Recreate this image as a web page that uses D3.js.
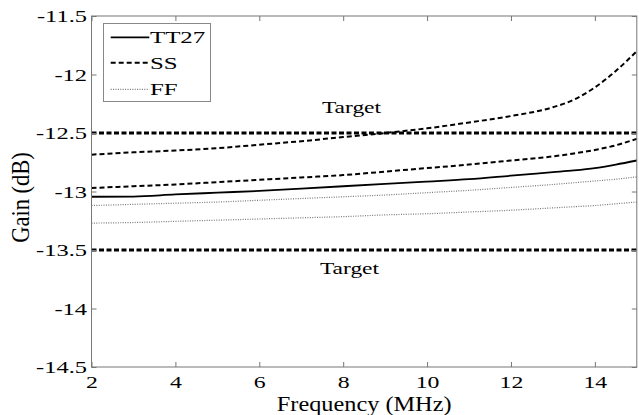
<!DOCTYPE html>
<html><head><meta charset="utf-8">
<script src="https://cdn.jsdelivr.net/npm/d3@7"></script>
<style>body{margin:0;background:#fff} svg{display:block} svg text{font-family:"Liberation Serif","Tinos","Times New Roman",serif;}</style>
</head><body>
<svg id="chart" width="639" height="415"></svg>
<script>
// ---- data ----
const freq   = [2, 3, 4, 5, 6, 7, 8, 9, 10, 11, 12, 13, 13.5, 14, 14.5, 15];
const tt27   = [-13.045, -13.043, -13.025, -13.01, -12.995, -12.975, -12.955, -12.935, -12.915, -12.895, -12.865, -12.835, -12.82, -12.80, -12.77, -12.735];
const ssHigh = [-12.685, -12.665, -12.65, -12.63, -12.60, -12.57, -12.535, -12.50, -12.46, -12.41, -12.355, -12.28, -12.215, -12.11, -11.97, -11.80];
const ssLow  = [-12.97, -12.955, -12.94, -12.92, -12.90, -12.88, -12.86, -12.83, -12.80, -12.77, -12.735, -12.70, -12.675, -12.645, -12.605, -12.55];
const ffHigh = [-13.12, -13.11, -13.10, -13.09, -13.075, -13.06, -13.045, -13.03, -13.01, -12.99, -12.965, -12.94, -12.925, -12.91, -12.895, -12.875];
const ffLow  = [-13.27, -13.265, -13.255, -13.245, -13.235, -13.225, -13.215, -13.20, -13.19, -13.175, -13.16, -13.14, -13.13, -13.12, -13.105, -13.09];
const targets = [-12.5, -13.5];
const targetLabel = "Target";
const targetLabelFreq = 8.15;
const seriesNames = ["TT27", "SS", "FF"];
const xTicks = [2, 4, 6, 8, 10, 12, 14];
const yTicks = [-11.5, -12, -12.5, -13, -13.5, -14, -14.5];
const xDomain = [2, 15];
const yDomain = [-14.5, -11.5];
const xTitle = "Frequency (MHz)";
const yTitle = "Gain (dB)";

// ---- layout / styles ----
const L = 91.5, R = 636.8, T = 16, B = 367;
const styles = {
  TT27: {stroke: "#000", width: 1.8, dash: null},
  SS:   {stroke: "#000", width: 2,   dash: "5,3"},
  FF:   {stroke: "#777", width: 1.2, dash: "1,1.4"},
  target: {stroke: "#000", width: 2.8, dash: "5,2.5"}
};

const svg = d3.select("#chart");
const x = d3.scaleLinear().domain(xDomain).range([L, R]);
const y = d3.scaleLinear().domain(yDomain).range([B, T]);

svg.append("rect").attr("x", 0).attr("y", 0).attr("width", 639).attr("height", 415).attr("fill", "#fff");

const line = d3.line().x(d => x(d[0])).y(d => y(d[1])).curve(d3.curveMonotoneX);
function drawSeries(vals, st) {
  svg.append("path")
    .datum(freq.map((f, i) => [f, vals[i]]))
    .attr("d", line)
    .attr("fill", "none")
    .attr("stroke", st.stroke)
    .attr("stroke-width", st.width)
    .attr("stroke-dasharray", st.dash);
}

// target lines
targets.forEach(t => {
  svg.append("line")
    .attr("x1", x(xDomain[0])).attr("x2", x(xDomain[1]))
    .attr("y1", y(t)).attr("y2", y(t))
    .attr("stroke", styles.target.stroke)
    .attr("stroke-width", styles.target.width)
    .attr("stroke-dasharray", styles.target.dash);
});

drawSeries(ffLow, styles.FF);
drawSeries(ffHigh, styles.FF);
drawSeries(ssLow, styles.SS);
drawSeries(ssHigh, styles.SS);
drawSeries(tt27, styles.TT27);

// target labels
svg.append("g").attr("transform", `translate(${x(targetLabelFreq) + 2},${y(targets[0]) - 20}) scale(1.38,1)`)
  .append("text").attr("text-anchor", "middle").style("font-size", "17px").text(targetLabel);
svg.append("g").attr("transform", `translate(${x(targetLabelFreq)},${y(targets[1]) + 24}) scale(1.38,1)`)
  .append("text").attr("text-anchor", "middle").style("font-size", "17px").text(targetLabel);

// axes
const fmt = d => String(d);
const gx = svg.append("g").attr("transform", `translate(0,${B})`)
  .call(d3.axisBottom(x).tickValues(xTicks).tickFormat(fmt).tickSizeInner(-5).tickSizeOuter(0));
gx.selectAll("text").attr("y", 21.5).attr("dy", 0)
  .attr("transform", "scale(1.4,1)");
const gy = svg.append("g").attr("transform", `translate(${L},0)`)
  .call(d3.axisLeft(y).tickValues(yTicks).tickFormat(fmt).tickSizeInner(-5).tickSizeOuter(0));
gy.selectAll("text").attr("x", 0).attr("dy", "0.35em")
  .attr("transform", "translate(-4.5,0) scale(1.44,1)");
const gt = svg.append("g").attr("transform", `translate(0,${T})`)
  .call(d3.axisTop(x).tickValues(xTicks).tickFormat("").tickSizeInner(-5).tickSizeOuter(0));
const gr = svg.append("g").attr("transform", `translate(${R},0)`)
  .call(d3.axisRight(y).tickValues(yTicks).tickFormat("").tickSizeInner(-5).tickSizeOuter(0));
[gx, gy, gt, gr].forEach(g => {
  g.attr("font-family", null);
  g.select(".domain").remove();
  g.selectAll("line").attr("stroke", "#777");
  g.selectAll("text").style("font-size", "17px").attr("fill", "#000");
});

// frame
svg.append("rect").attr("x", L).attr("y", T).attr("width", R - L).attr("height", B - T)
  .attr("fill", "none").attr("stroke", "#777").attr("stroke-width", 1);

// axis titles
svg.append("g").attr("transform", `translate(${(L + R) / 2},411) scale(1.13,1)`)
  .append("text").attr("text-anchor", "middle").style("font-size", "21.5px").text(xTitle);
svg.append("g").attr("transform", `translate(29,197.5) rotate(-90) scale(1,1.1)`)
  .append("text").attr("text-anchor", "middle").style("font-size", "22.5px").text(yTitle);

// legend
const lg = svg.append("g");
lg.append("rect").attr("x", 103.5).attr("y", 23.5).attr("width", 107).attr("height", 78)
  .attr("fill", "#fff").attr("stroke", "#888").attr("stroke-width", 1);
const legY = [37.3, 62.7, 89.3];
seriesNames.forEach((name, i) => {
  const st = styles[name];
  lg.append("line").attr("x1", 110.7).attr("x2", 149.3).attr("y1", legY[i]).attr("y2", legY[i])
    .attr("stroke", st.stroke).attr("stroke-width", st.width).attr("stroke-dasharray", st.dash);
  lg.append("g").attr("transform", `translate(150,${legY[i] + 6}) scale(1.42,1)`)
    .append("text").style("font-size", "17.5px").text(name);
});
</script>
</body></html>
